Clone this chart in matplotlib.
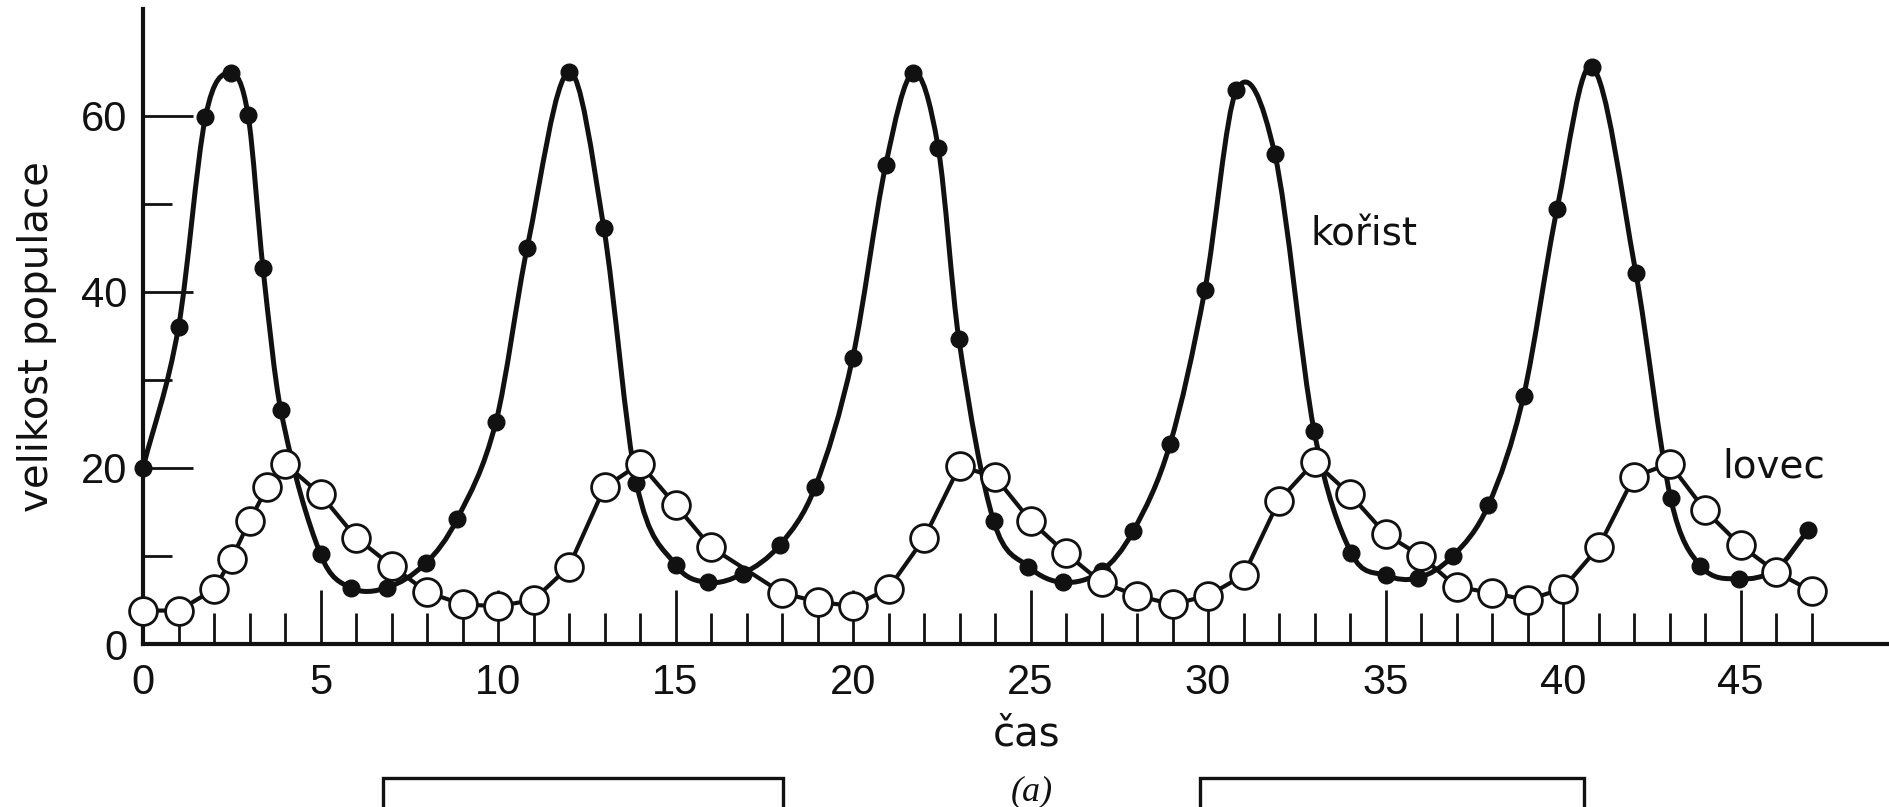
import numpy as np
import matplotlib
matplotlib.use("Agg")
import matplotlib.pyplot as plt
from matplotlib.path import Path
from matplotlib.patches import PathPatch, Rectangle
from matplotlib.ticker import FixedLocator, FixedFormatter, NullFormatter

# ---------------- data ----------------
prey_t = [0.0, 1.0, 1.76, 2.47, 2.96, 3.38, 3.88, 5.0, 5.85, 6.87, 7.97, 8.85,
          9.94, 10.82, 12.0, 12.98, 13.9, 15.0, 15.92, 16.9, 17.95, 18.93, 19.99,
          20.92, 21.7, 22.4, 22.98, 23.96, 24.94, 25.92, 27.0, 27.89, 28.93, 29.91,
          30.8, 31.88, 32.99, 34.04, 35.0, 35.91, 36.9, 37.9, 38.89, 39.83, 40.82,
          42.05, 43.03, 43.87, 44.95, 46.0, 46.9]
prey_v = [20.0, 36.0, 59.9, 64.9, 60.1, 42.7, 26.6, 10.2, 6.4, 6.4, 9.2, 14.2,
          25.2, 45.0, 65.0, 47.3, 18.3, 9.0, 7.0, 8.0, 11.3, 17.8, 32.5,
          54.4, 64.9, 56.4, 34.7, 14.0, 8.8, 7.0, 8.3, 12.8, 22.7, 40.2,
          62.9, 55.7, 24.2, 10.3, 7.8, 7.5, 10.0, 15.8, 28.2, 49.4, 65.6,
          42.2, 16.6, 8.9, 7.4, 8.5, 12.9]

pred_t = [0, 1, 2, 2.5, 3, 3.5, 4, 5, 6, 7, 8, 9, 10, 11, 12, 13, 14, 15, 16,
          18, 19, 20, 21, 22, 23, 24, 25, 26, 27, 28, 29, 30, 31, 32, 33, 34,
          35, 36, 37, 38, 39, 40, 41, 42, 43, 44, 45, 46, 47]
pred_v = [3.8, 3.8, 6.2, 9.7, 14.0, 17.8, 20.5, 17.0, 12.1, 8.9, 5.9, 4.5, 4.3,
          5.0, 8.8, 17.8, 20.5, 15.8, 11.0,
          5.8, 4.8, 4.3, 6.3, 12.0, 20.2, 19.0, 14.0, 10.3, 7.0, 5.5, 4.5, 5.5,
          7.8, 16.3, 20.7, 17.0, 12.5, 10.0, 6.5, 5.8, 5.0, 6.3, 11.0, 19.0,
          20.5, 15.2, 11.2, 8.2, 6.0]

x_major = [0, 5, 10, 15, 20, 25, 30, 35, 40, 45]
x_minor = [i for i in range(0, 48) if i % 5 != 0]
x_labels = ["0", "5", "10", "15", "20", "25", "30", "35", "40", "45"]
y_major = [0, 20, 40, 60]
y_minor = [10, 30, 50]
y_labels = ["0", "20", "40", "60"]

x_title = "čas"
y_title = "velikost populace"
prey_name = "kořist"
pred_name = "lovec"
panel_tag = "(a)"

# ---------------- figure ----------------
INK = "#111111"
W, H = 1890, 807
fig = plt.figure(figsize=(W / 100, H / 100), dpi=100)
fig.patch.set_facecolor("white")

ax_l, ax_b, ax_r, ax_t = 143, 644, 1890, 9          # pixel frame of the axes
ax = fig.add_axes([ax_l / W, 1 - ax_b / H, (ax_r - ax_l) / W, (ax_b - ax_t) / H])
ax.set_xlim(0, (ax_r - ax_l) / 35.5)
ax.set_ylim(0, (ax_b - ax_t) / 8.8)

for s in ("top", "right"):
    ax.spines[s].set_visible(False)
for s in ("left", "bottom"):
    ax.spines[s].set_linewidth(3.0)
    ax.spines[s].set_color(INK)


def hermite_path(xs, ys):
    """Smooth cubic path through the given points (drawn by matplotlib)."""
    xs = np.asarray(xs, float)
    ys = np.asarray(ys, float)
    n = len(xs)
    m = np.empty(n)
    m[1:-1] = (ys[2:] - ys[:-2]) / (xs[2:] - xs[:-2])
    m[0] = (ys[1] - ys[0]) / (xs[1] - xs[0])
    m[-1] = (ys[-1] - ys[-2]) / (xs[-1] - xs[-2])
    verts = [(xs[0], ys[0])]
    codes = [Path.MOVETO]
    for i in range(n - 1):
        dx = xs[i + 1] - xs[i]
        verts += [(xs[i] + dx / 3, ys[i] + m[i] * dx / 3),
                  (xs[i + 1] - dx / 3, ys[i + 1] - m[i + 1] * dx / 3),
                  (xs[i + 1], ys[i + 1])]
        codes += [Path.CURVE4] * 3
    return Path(verts, codes)


# predator: straight segments with open circles
ax.plot(pred_t, pred_v, "-", color=INK, lw=3.0, zorder=2, solid_joinstyle="round")
# prey: smooth curve with filled dots
ax.add_patch(PathPatch(hermite_path(prey_t, prey_v), facecolor="none",
                       edgecolor=INK, lw=3.6, zorder=3, joinstyle="round",
                       capstyle="round"))
ax.plot(prey_t, prey_v, "o", ls="none", ms=12, color=INK, zorder=4, clip_on=False)
ax.plot(pred_t, pred_v, "o", ls="none", ms=20, mfc="white", mec=INK, mew=2.0,
        zorder=5, clip_on=False)

# ticks
ax.xaxis.set_major_locator(FixedLocator(x_major))
ax.xaxis.set_major_formatter(FixedFormatter(x_labels))
ax.xaxis.set_minor_locator(FixedLocator(x_minor))
ax.xaxis.set_minor_formatter(NullFormatter())
ax.yaxis.set_major_locator(FixedLocator(y_major))
ax.yaxis.set_major_formatter(FixedFormatter(y_labels))
ax.yaxis.set_minor_locator(FixedLocator(y_minor))
ax.yaxis.set_minor_formatter(NullFormatter())

ax.tick_params(axis="both", which="both", direction="in", color=INK, width=2.0)
ax.tick_params(axis="x", which="major", length=39, pad=14)
ax.tick_params(axis="x", which="minor", length=22)
ax.tick_params(axis="y", which="major", length=36, pad=11)
ax.tick_params(axis="y", which="minor", length=21)
for lab in ax.get_xticklabels() + ax.get_yticklabels():
    lab.set_fontfamily("Liberation Sans")
    lab.set_fontsize(30)
    lab.set_color(INK)

# axis titles
ax.set_xlabel(x_title, fontsize=29, family="DejaVu Sans", color=INK)
ax.xaxis.label.set_va("center")
ax.xaxis.set_label_coords((1027 - ax_l) / (ax_r - ax_l), (ax_b - 735) / (ax_b - ax_t))
ax.set_ylabel(y_title, fontsize=29, family="DejaVu Sans", color=INK)
ax.yaxis.label.set_va("center")
ax.yaxis.set_label_coords((37 - ax_l) / (ax_r - ax_l), (ax_b - 337) / (ax_b - ax_t))

# series names
ax.text(32.9, 46.5, prey_name, ha="left", va="center", fontsize=28,
        family="DejaVu Sans", color=INK)
ax.text(44.5, 20.2, pred_name, ha="left", va="center", fontsize=28,
        family="DejaVu Sans", color=INK)

# panel tag
fig.text(1032 / W, 1 - 792 / H, panel_tag, ha="center", va="center",
         fontsize=26, family="Liberation Serif", style="italic", color=INK)

# the two open boxes at the bottom edge
for x0, x1 in ((383, 783), (1200, 1584)):
    fig.add_artist(Rectangle((x0 / W, -0.1), (x1 - x0) / W, 0.1 + 1 - 778 / H,
                             transform=fig.transFigure, fill=False, lw=2.4,
                             edgecolor=INK))

fig.savefig("out.png", dpi=100, facecolor="white")
